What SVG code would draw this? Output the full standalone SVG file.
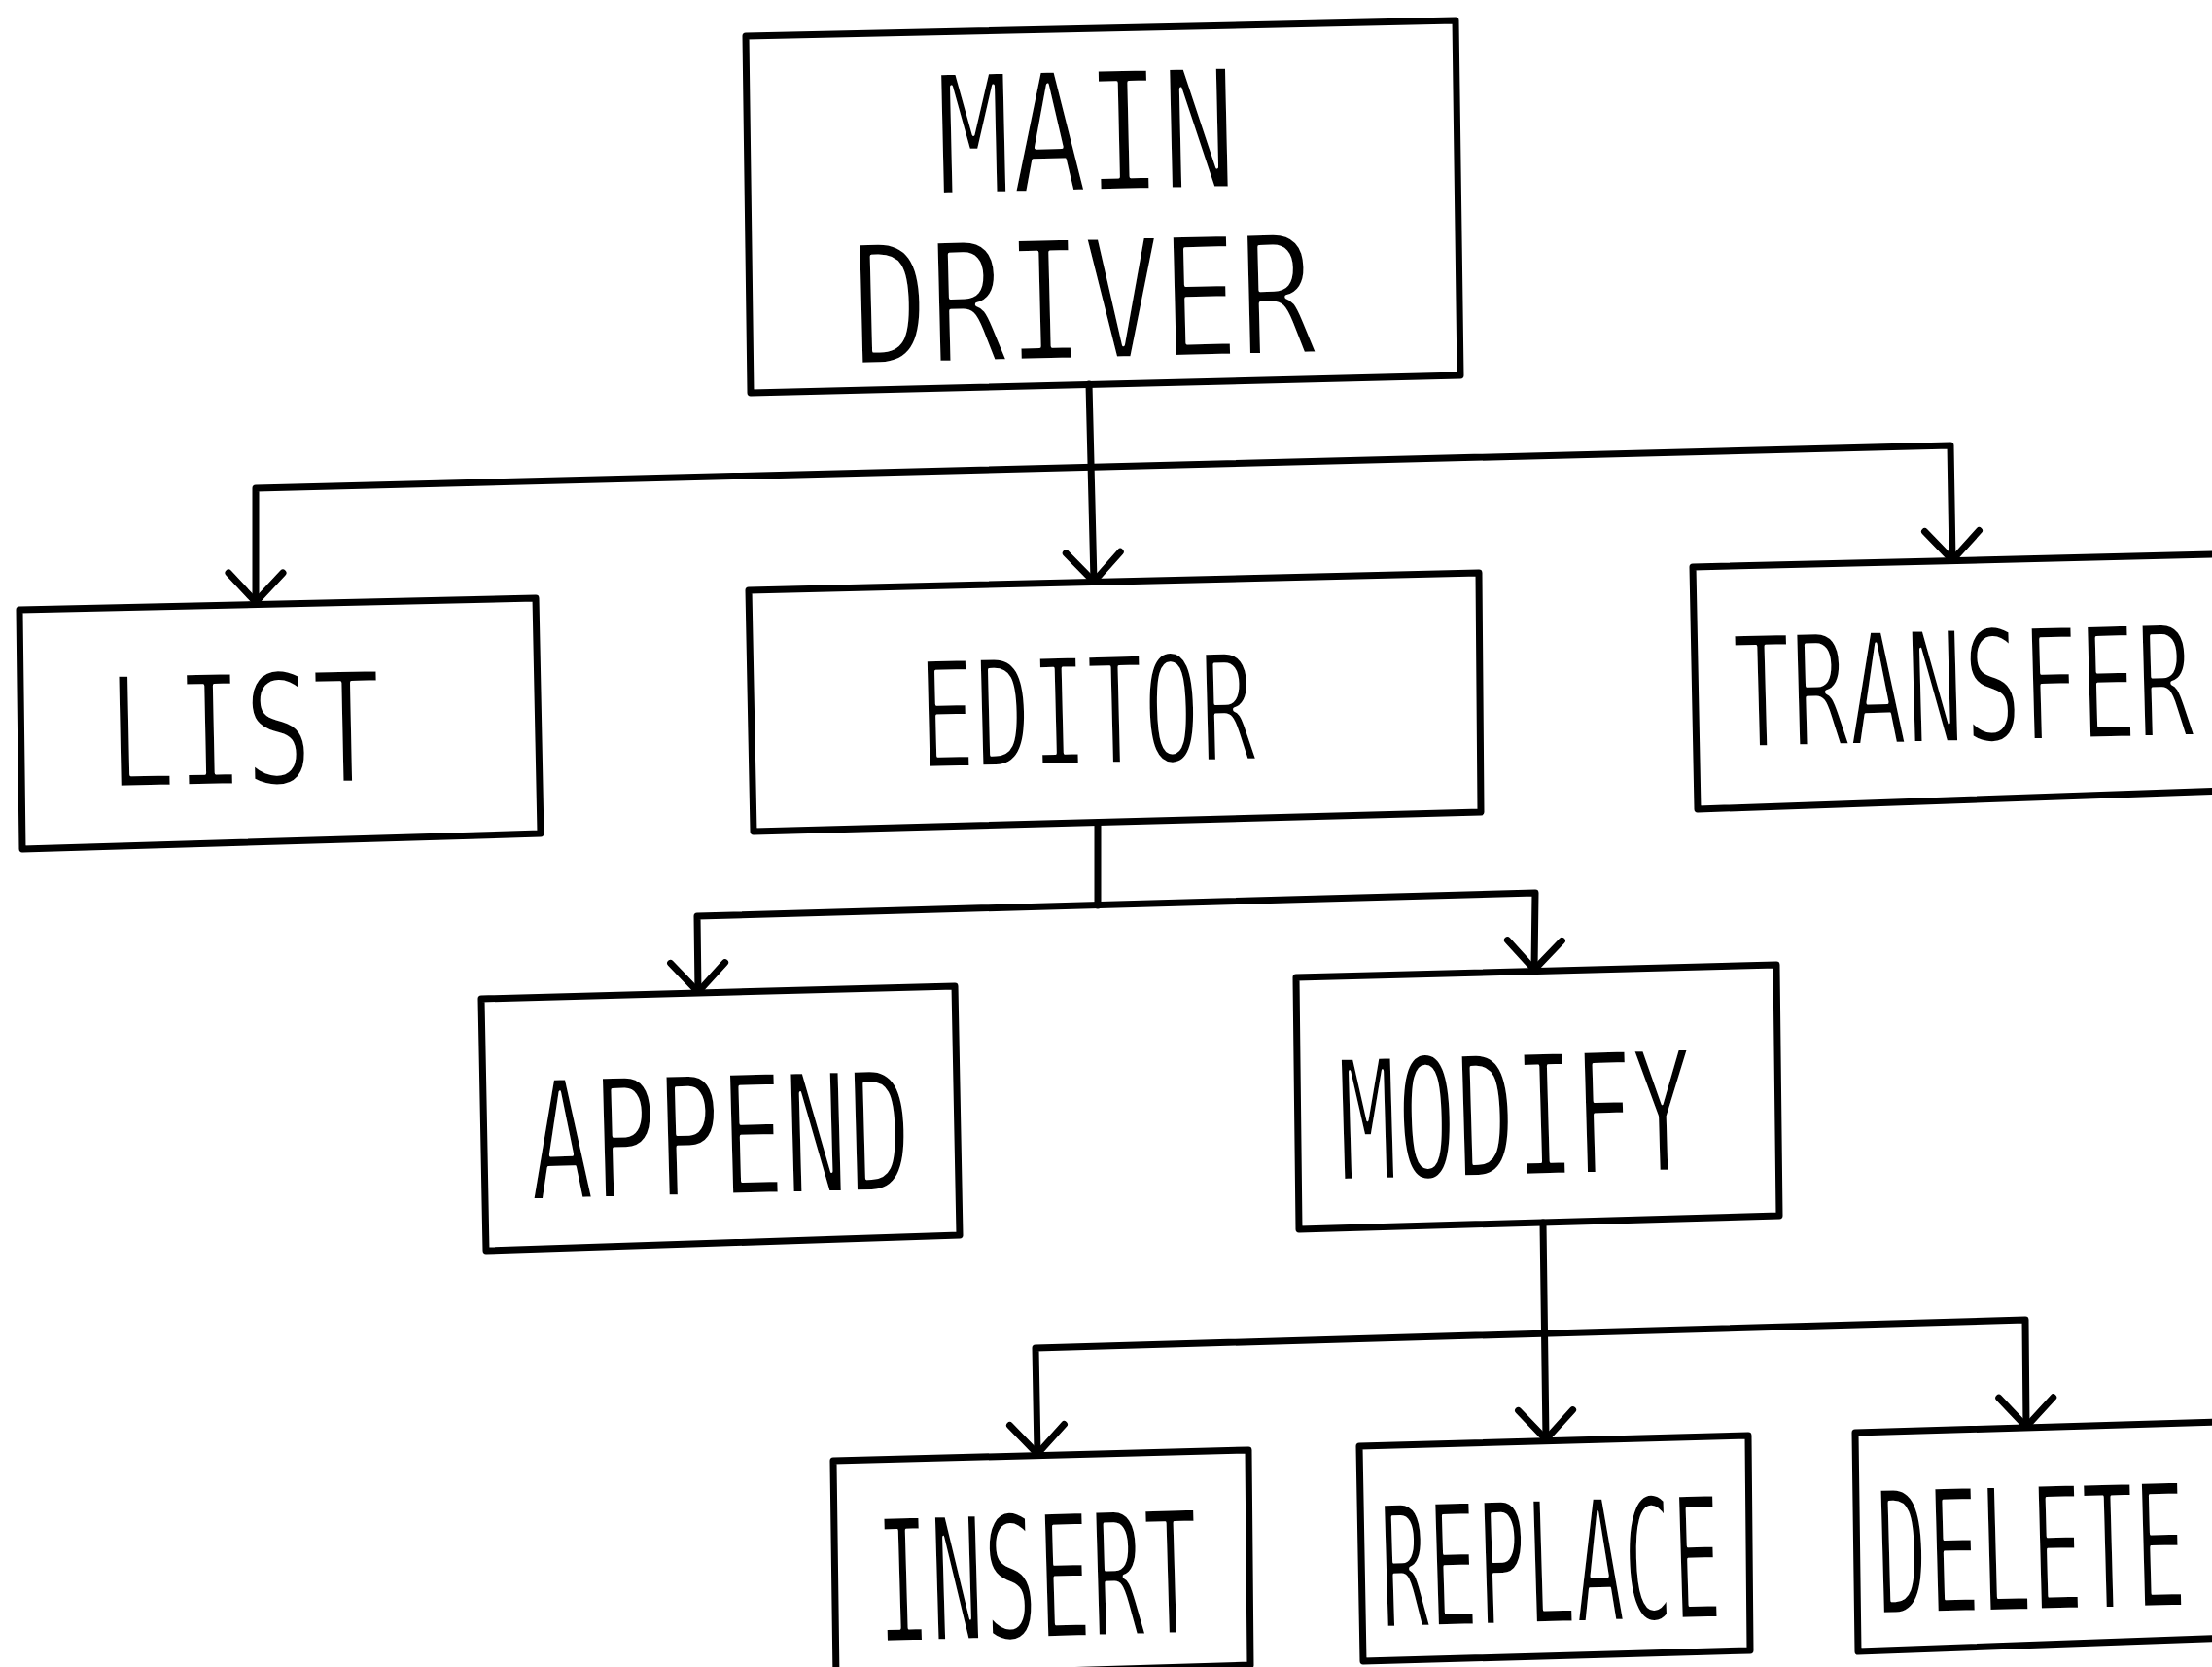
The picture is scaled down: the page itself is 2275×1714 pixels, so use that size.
<svg xmlns="http://www.w3.org/2000/svg" width="2275" height="1714" viewBox="0 0 2275 1714">
  <defs>
    <!-- open V arrowhead used at the end of every call line -->
    <marker id="arrow" markerUnits="userSpaceOnUse" viewBox="-40 -40 50 80" markerWidth="50" markerHeight="80" refX="0" refY="0" orient="auto-start-reverse">
      <path d="M-30,-28 L0,0 L-30,28" fill="none" stroke="#000" stroke-width="7" stroke-linecap="round" stroke-linejoin="round"/>
    </marker>
  </defs>
  <style>
    .box { fill: none; stroke: #000; stroke-width: 7; stroke-linejoin: round; }
    .wire { fill: none; stroke: #000; stroke-width: 7; stroke-linejoin: round; stroke-linecap: round; }
    .label { font-family: "DejaVu Sans Mono", "Liberation Mono", monospace; fill: #000; stroke: #fff; stroke-width: 4; stroke-linejoin: round; }
  </style>

  <rect width="2275" height="1714" fill="#fff"/>

  <!-- call lines -->
  <g id="connectors">
    <!-- MAIN DRIVER to LIST / EDITOR / TRANSFER -->
    <path class="wire" d="M1120,395 L1125,598" marker-end="url(#arrow)"/>
    <path class="wire" d="M263,619 L263,502 L2006,458 L2008,576" marker-start="url(#arrow)" marker-end="url(#arrow)"/>
    <!-- EDITOR to APPEND / MODIFY -->
    <path class="wire" d="M1129,846 L1129,931"/>
    <path class="wire" d="M718,1020 L717,942 L1579,918 L1578,997" marker-start="url(#arrow)" marker-end="url(#arrow)"/>
    <!-- MODIFY to INSERT / REPLACE / DELETE -->
    <path class="wire" d="M1587,1257 L1590,1480" marker-end="url(#arrow)"/>
    <path class="wire" d="M1067,1495 L1065,1386 L2083,1357 L2084,1467" marker-start="url(#arrow)" marker-end="url(#arrow)"/>
  </g>

  <g id="main-driver">
    <polygon class="box" points="767,37 1497,21 1502,386 772,404"/>
    <text class="label" x="964" y="200" font-size="171" textLength="309" lengthAdjust="spacingAndGlyphs" transform="rotate(-1.3 964 200)">MAIN</text>
    <text class="label" x="877" y="375" font-size="171" textLength="478" lengthAdjust="spacingAndGlyphs" transform="rotate(-1.4 877 375)">DRIVER</text>
  </g>

  <g id="list">
    <polygon class="box" points="20,627 551,615 556,857 23,873"/>
    <text class="label" x="111" y="810" font-size="159" textLength="282" lengthAdjust="spacingAndGlyphs" transform="rotate(-1.2 111 810)">LIST</text>
  </g>

  <g id="editor">
    <polygon class="box" points="770,607 1521,589 1523,835 775,855"/>
    <text class="label" x="946" y="790" font-size="153" textLength="347" lengthAdjust="spacingAndGlyphs" transform="rotate(-1.4 946 790)">EDITOR</text>
  </g>

  <g id="transfer">
    <polygon class="box" points="1741,583 2320,569 2320,812 1746,832"/>
    <text class="label" x="1784" y="769" font-size="160" textLength="474" lengthAdjust="spacingAndGlyphs" transform="rotate(-1.5 1784 769)">TRANSFER</text>
  </g>

  <g id="append">
    <polygon class="box" points="495,1027 982,1014 987,1270 500,1286"/>
    <text class="label" x="546" y="1234" font-size="171" textLength="393" lengthAdjust="spacingAndGlyphs" transform="rotate(-1.5 546 1234)">APPEND</text>
  </g>

  <g id="modify">
    <polygon class="box" points="1333,1005 1827,992 1830,1250 1336,1264"/>
    <text class="label" x="1378" y="1214" font-size="173" textLength="364" lengthAdjust="spacingAndGlyphs" transform="rotate(-1.6 1378 1214)">MODIFY</text>
  </g>

  <g id="insert">
    <polygon class="box" points="857,1502 1284,1491 1286,1712 860,1725"/>
    <text class="label" x="903" y="1689" font-size="177" textLength="331" lengthAdjust="spacingAndGlyphs" transform="rotate(-1.6 903 1689)">INSERT</text>
  </g>

  <g id="replace">
    <polygon class="box" points="1398,1487 1798,1476 1800,1697 1402,1708"/>
    <text class="label" x="1421" y="1674" font-size="175" textLength="351" lengthAdjust="spacingAndGlyphs" transform="rotate(-1.7 1421 1674)">REPLACE</text>
  </g>

  <g id="delete">
    <polygon class="box" points="1908,1473 2320,1461 2320,1683 1911,1698"/>
    <text class="label" x="1931" y="1660" font-size="177" textLength="319" lengthAdjust="spacingAndGlyphs" transform="rotate(-1.5 1931 1660)">DELETE</text>
  </g>
</svg>
